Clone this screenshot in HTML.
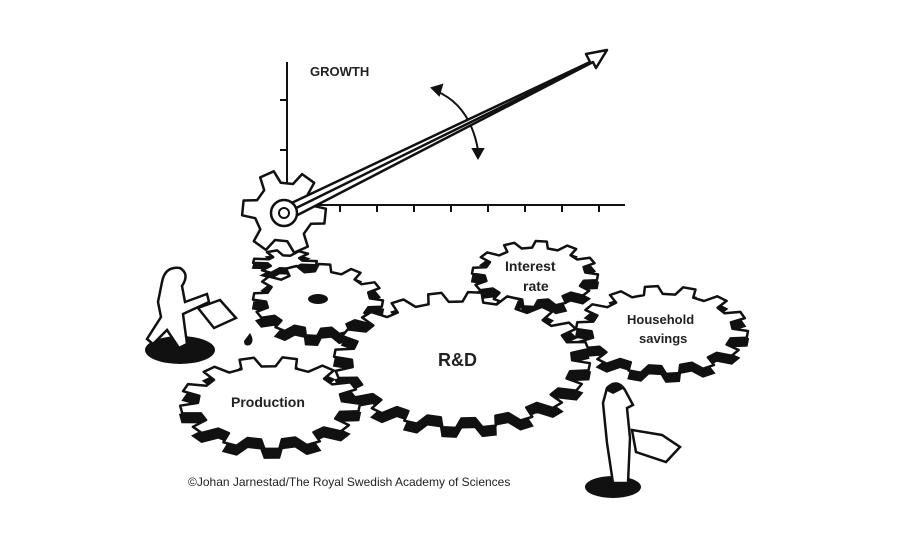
<!DOCTYPE html>
<html><head><meta charset="utf-8"><style>
html,body{margin:0;padding:0;background:#fff;}
svg{display:block}
text{font-family:"Liberation Sans",sans-serif;font-weight:bold;fill:#222}
</style></head><body>
<svg id="s" width="900" height="549" viewBox="0 0 900 549">
<g stroke="#111" stroke-width="2" fill="none">
<line x1="287" y1="62" x2="287" y2="205"/>
<line x1="287" y1="205" x2="625" y2="205"/>
<line x1="280" y1="100" x2="287" y2="100"/><line x1="280" y1="150" x2="287" y2="150"/>
<line x1="340" y1="205" x2="340" y2="212"/><line x1="377" y1="205" x2="377" y2="212"/>
<line x1="414" y1="205" x2="414" y2="212"/><line x1="451" y1="205" x2="451" y2="212"/>
<line x1="488" y1="205" x2="488" y2="212"/><line x1="525" y1="205" x2="525" y2="212"/>
<line x1="562" y1="205" x2="562" y2="212"/><line x1="599" y1="205" x2="599" y2="212"/>
<path d="M436 91 Q470 105 478 150" stroke-width="2"/>
<path d="M432 88 l10 -3 l-3 10 z" fill="#111"/>
<path d="M478 158 l-5 -9 l10 0 z" fill="#111"/>
</g>
<text x="310" y="76" font-size="13">GROWTH</text>
<g id="gears"></g>
<g stroke="#111" stroke-width="2.5" fill="#fff" stroke-linejoin="round">
<path d="M283 207 L590 62 L586 54 L607 50 L596 68 L593 62 L288 220 Z"/>
<line x1="286" y1="213" x2="591" y2="63"/>
</g>
<circle cx="284" cy="213" r="13" fill="#fff" stroke="#111" stroke-width="2.5"/>
<circle cx="284" cy="213" r="5" fill="#fff" stroke="#111" stroke-width="2"/>
<ellipse cx="180" cy="350" rx="35" ry="14" fill="#111"/>
<path d="M162 282 q3 -16 18 -14 q10 6 2 18 l3 16 l22 -8 l2 8 l-26 12 l4 30 l-8 4 l-12 -18 l-14 14 l-6 -5 l14 -22 l-3 -15 z" fill="#fff" stroke="#111" stroke-width="2.5"/>
<path d="M198 308 l22 -8 l16 18 l-22 10 z" fill="#fff" stroke="#111" stroke-width="2.5"/>
<path d="M250 333 q5 8 0 12 q-6 2 -6 -4 z" fill="#111"/>
<ellipse cx="613" cy="487" rx="28" ry="11" fill="#111"/>
<path d="M607 388 q10 -10 18 2 l8 15 l-6 3 l3 30 l-2 45 l-15 0 l-6 -40 l-4 -40 z" fill="#fff" stroke="#111" stroke-width="2.5"/>
<path d="M605 390 q8 -14 20 -2 l-12 6 z" fill="#111"/>
<path d="M632 430 l30 5 l18 12 l-14 15 l-30 -10 z" fill="#fff" stroke="#111" stroke-width="2.5"/>
<text x="505" y="271" font-size="14">Interest</text>
<text x="523" y="291" font-size="14">rate</text>
<text x="627" y="324" font-size="13">Household</text>
<text x="639" y="343" font-size="13">savings</text>
<text x="438" y="366" font-size="18">R&amp;D</text>
<text x="231" y="407" font-size="14">Production</text>
<text x="188" y="486" font-size="12" style="font-weight:normal">©Johan Jarnestad/The Royal Swedish Academy of Sciences</text>
</svg>
<script>
function gp(cx,cy,rx,ry,n,d,ph){var p=2*Math.PI/n,s="";for(var k=0;k<n;k++){var a=ph+k*p;var pts=[[a-0.3*p,1-d],[a-0.17*p,1],[a+0.17*p,1],[a+0.3*p,1-d]];pts.forEach(function(q,i){var x=cx+rx*q[1]*Math.cos(q[0]),y=cy+ry*q[1]*Math.sin(q[0]);s+=(k==0&&i==0?"M":"L")+x.toFixed(1)+" "+y.toFixed(1)+" ";});}return s+"Z";}
var G=document.getElementById("gears"),h="";
function gear(cx,cy,rx,ry,n,d,th){var dd=gp(cx,cy,rx,ry,n,d,0.1);
if(th)h+='<path d="'+gp(cx,cy+th,rx,ry,n,d,0.1)+'" fill="#111" stroke="#111" stroke-width="2"/>';
h+='<path d="'+dd+'" fill="#fff" stroke="#111" stroke-width="2.5" stroke-linejoin="round"/>';}
gear(284,212,42,42,6,0.3,0);
gear(535,274,63,33,12,0.2,8);
gear(662,330,86,44,14,0.18,8);
gear(285,262,32,12,6,0.45,5);
gear(318,300,65,36,12,0.2,9);
h+='<ellipse cx="318" cy="299" rx="10" ry="5" fill="#111"/>';
gear(462,360,128,68,20,0.14,9);
gear(270,403,90,46,13,0.2,9);
G.innerHTML=h;
</script>
</body></html>
